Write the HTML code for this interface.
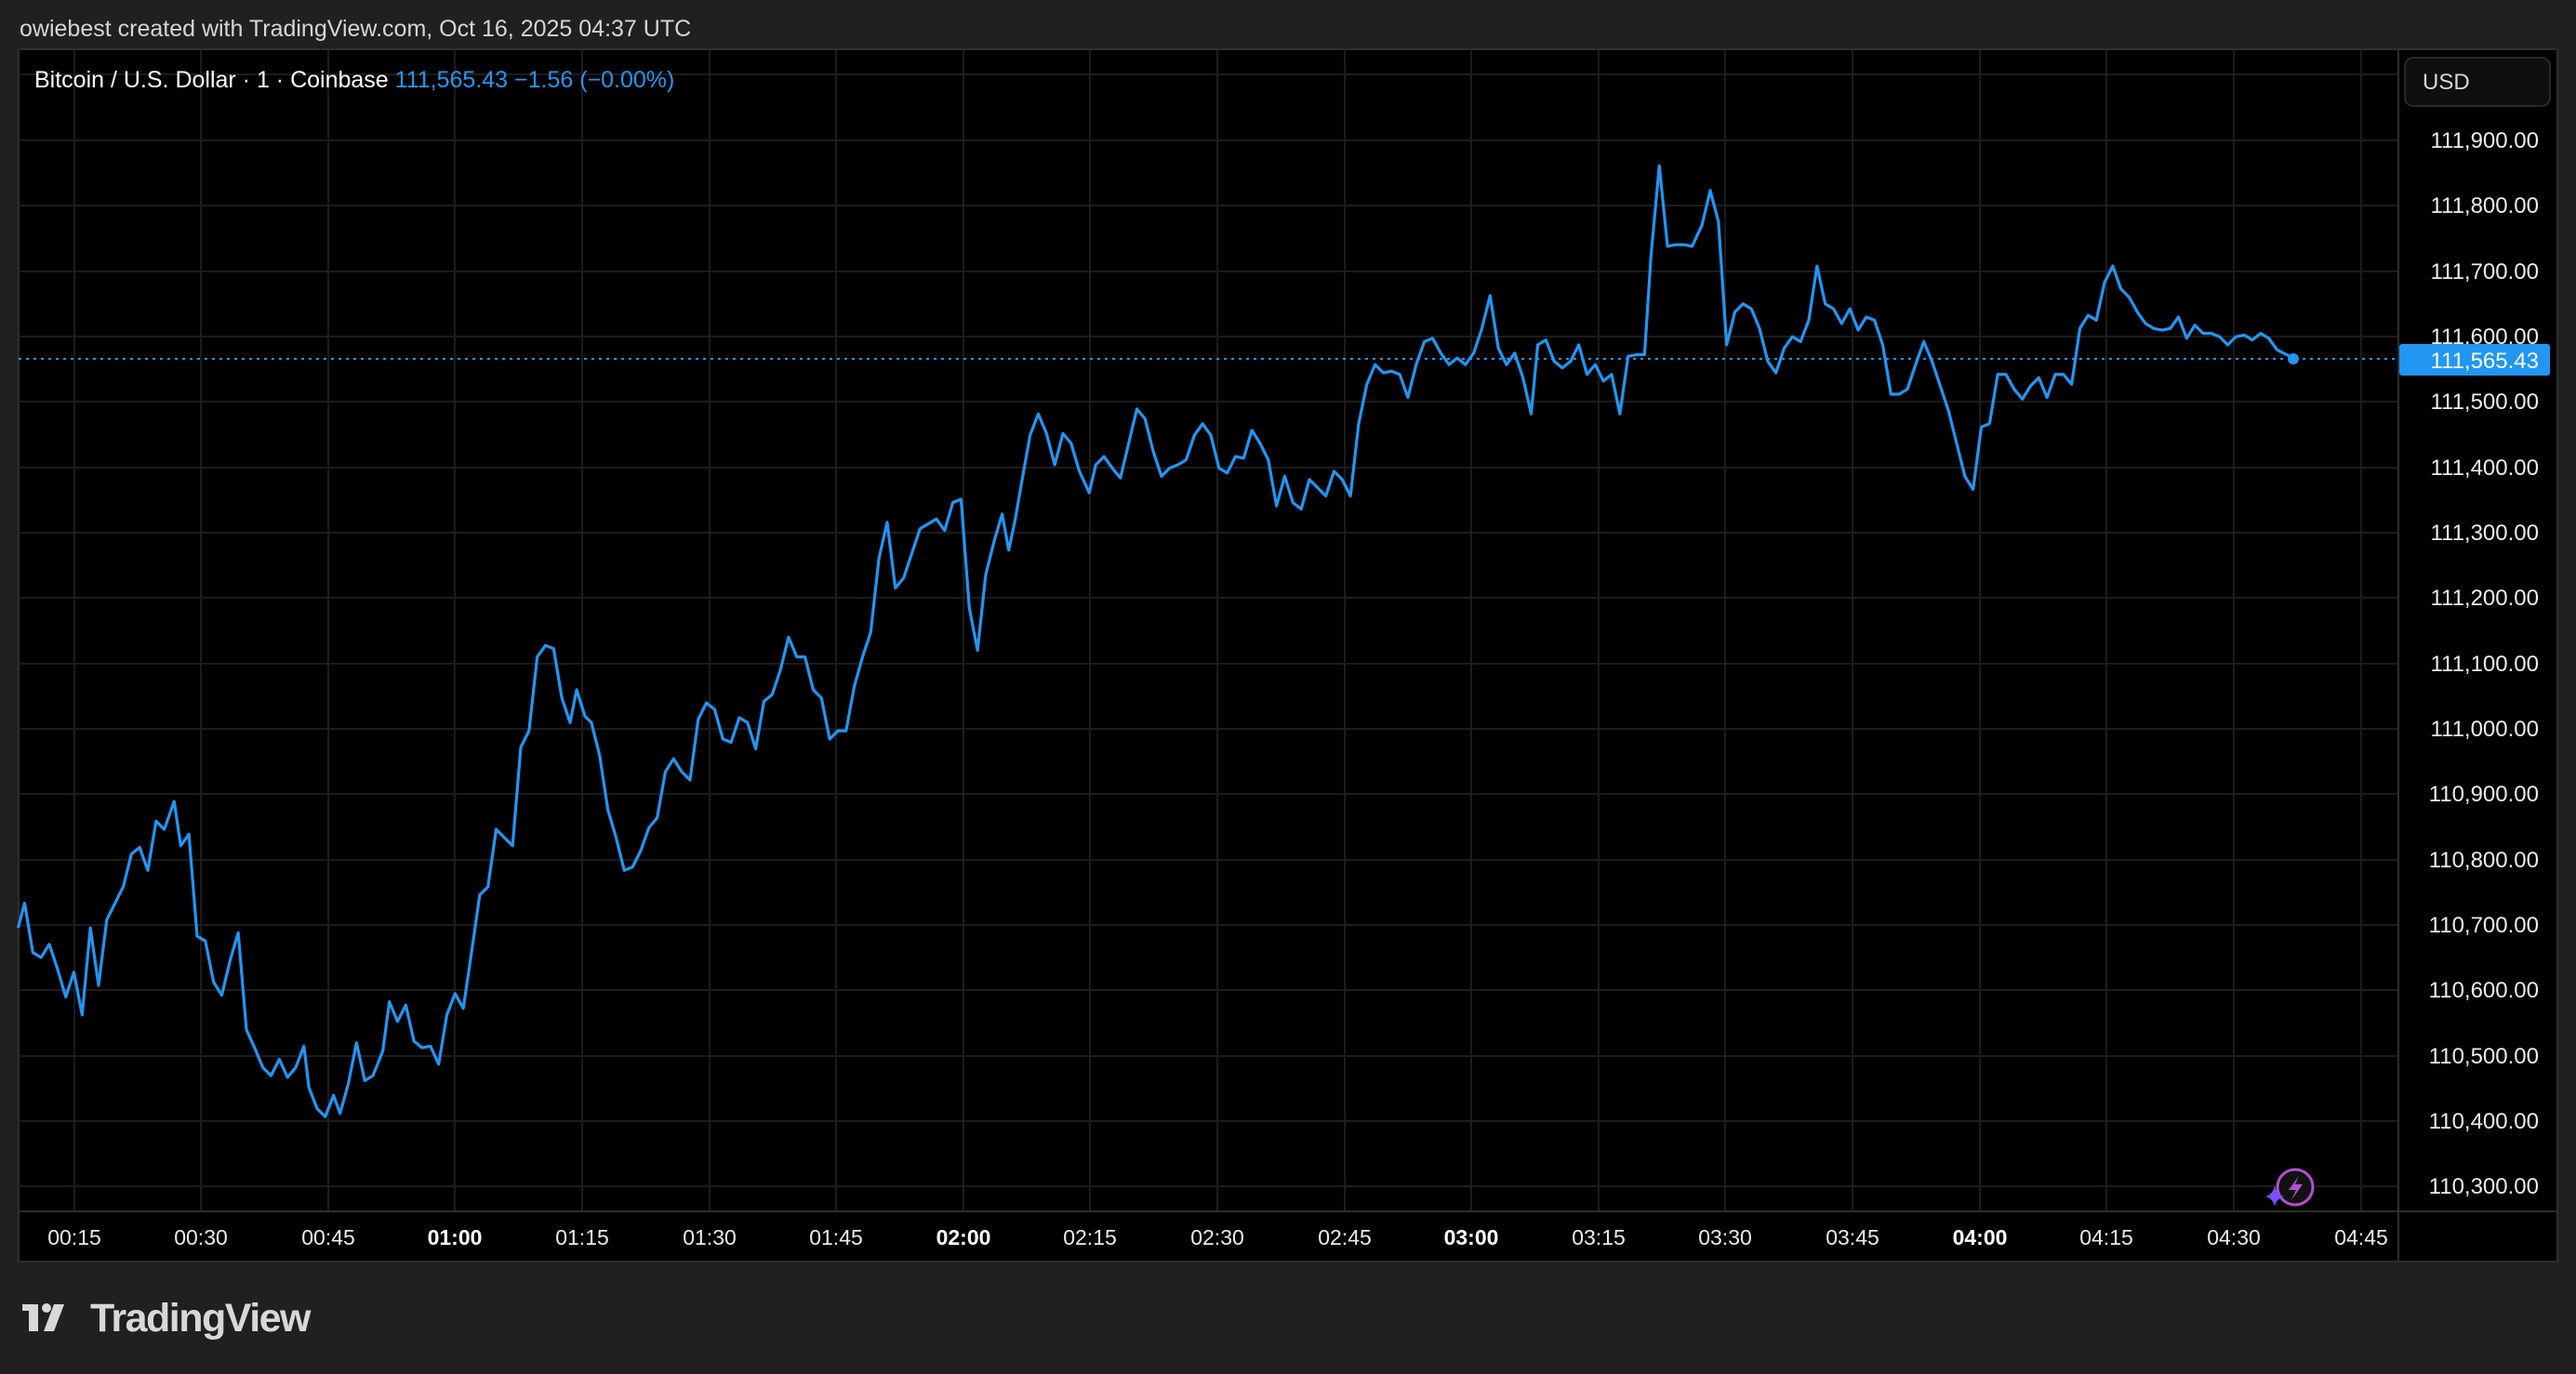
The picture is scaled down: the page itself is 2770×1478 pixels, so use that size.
<!DOCTYPE html>
<html><head><meta charset="utf-8"><style>
html,body{margin:0;padding:0;background:#202020;width:2770px;height:1478px;overflow:hidden}
svg{display:block}
text{font-family:"Liberation Sans",sans-serif}
</style></head><body>
<svg width="2770" height="1478" viewBox="0 0 2770 1478" xmlns="http://www.w3.org/2000/svg">
<rect width="2770" height="1478" fill="#202020"/>
<text x="21" y="39" font-size="25" fill="#d6d6d6">owiebest created with TradingView.com, Oct 16, 2025 04:37 UTC</text>
<rect x="20" y="53" width="2730" height="1304" fill="#000" stroke="#2e2e2e" stroke-width="2"/>
<g stroke="#1c1c1c" stroke-width="2">
<line x1="20" y1="80" x2="2579" y2="80"/><line x1="20" y1="151" x2="2579" y2="151"/><line x1="20" y1="221" x2="2579" y2="221"/><line x1="20" y1="292" x2="2579" y2="292"/><line x1="20" y1="362" x2="2579" y2="362"/><line x1="20" y1="432" x2="2579" y2="432"/><line x1="20" y1="503" x2="2579" y2="503"/><line x1="20" y1="573" x2="2579" y2="573"/><line x1="20" y1="643" x2="2579" y2="643"/><line x1="20" y1="714" x2="2579" y2="714"/><line x1="20" y1="784" x2="2579" y2="784"/><line x1="20" y1="854" x2="2579" y2="854"/><line x1="20" y1="925" x2="2579" y2="925"/><line x1="20" y1="995" x2="2579" y2="995"/><line x1="20" y1="1065" x2="2579" y2="1065"/><line x1="20" y1="1136" x2="2579" y2="1136"/><line x1="20" y1="1206" x2="2579" y2="1206"/><line x1="20" y1="1276" x2="2579" y2="1276"/>
<line x1="80" y1="54" x2="80" y2="1302"/><line x1="216" y1="54" x2="216" y2="1302"/><line x1="353" y1="54" x2="353" y2="1302"/><line x1="489" y1="54" x2="489" y2="1302"/><line x1="626" y1="54" x2="626" y2="1302"/><line x1="763" y1="54" x2="763" y2="1302"/><line x1="899" y1="54" x2="899" y2="1302"/><line x1="1036" y1="54" x2="1036" y2="1302"/><line x1="1172" y1="54" x2="1172" y2="1302"/><line x1="1309" y1="54" x2="1309" y2="1302"/><line x1="1446" y1="54" x2="1446" y2="1302"/><line x1="1582" y1="54" x2="1582" y2="1302"/><line x1="1719" y1="54" x2="1719" y2="1302"/><line x1="1855" y1="54" x2="1855" y2="1302"/><line x1="1992" y1="54" x2="1992" y2="1302"/><line x1="2129" y1="54" x2="2129" y2="1302"/><line x1="2265" y1="54" x2="2265" y2="1302"/><line x1="2402" y1="54" x2="2402" y2="1302"/><line x1="2539" y1="54" x2="2539" y2="1302"/>
</g>
<line x1="20" y1="1303" x2="2750" y2="1303" stroke="#2e2e2e" stroke-width="2"/>
<line x1="2579" y1="53" x2="2579" y2="1357" stroke="#2e2e2e" stroke-width="2"/>
<line x1="20" y1="386" x2="2579" y2="386" stroke="#2196f3" stroke-width="2" stroke-dasharray="3 5"/>
<g transform="scale(1.7666)">
<polyline fill="none" stroke="#2196f3" stroke-width="3.2" stroke-linejoin="round" vector-effect="non-scaling-stroke" points="11,565 15,550 20,580 25,583 30,575 35,590 40,607 45,592 50,618 55,565 60,600 65,560 70,550 75,540 80,520 85,516 90,530 95,500 100,505 106,488 110,515 115,508 120,570 125,573 130,598 135,606 140,585 145,568 150,627 155,638 160,650 165,655 170,645 175,656 180,650 185,637 188,662 193,675 198,680 203,667 207,678 212,660 217,635 222,658 227,655 233,640 237,610 242,622 247,612 252,634 257,638 262,637 267,648 272,618 277,605 282,614 287,580 292,545 297,540 302,505 307,510 312,515 317,455 322,445 327,400 332,393 337,395 342,425 347,440 351,420 356,436 360,440 365,460 370,493 375,510 380,530 385,528 390,518 395,504 400,498 405,470 410,462 415,470 420,475 425,438 430,428 435,432 440,450 445,452 450,437 455,440 460,456 465,427 470,423 475,408 480,388 485,400 490,400 495,420 500,425 505,450 510,445 515,445 520,418 525,400 530,385 535,340 540,318 545,358 550,352 555,337 560,322 565,319 570,316 575,323 580,306 585,304 590,370 595,396 600,350 605,330 610,313 614,335 618,316 622,293 627,265 632,252 637,264 642,283 647,264 652,270 657,287 663,300 667,283 672,278 677,285 682,291 687,270 692,249 697,255 702,275 707,290 712,285 717,283 722,280 727,265 732,258 737,265 742,285 747,288 752,278 757,279 762,262 767,270 772,280 777,308 782,290 787,306 792,310 797,292 802,297 807,302 812,287 817,292 822,302 827,258 832,234 837,222 842,227 847,226 852,228 857,242 862,222 867,208 872,206 877,215 882,222 887,218 892,222 897,215 902,200 907,180 912,212 917,222 922,215 927,230 932,252 936,210 941,207 946,220 951,224 956,220 961,210 966,228 971,222 976,232 981,228 986,252 991,217 996,216 1001,216 1005,155 1010,101 1015,150 1020,149 1025,149 1030,150 1036,137 1041,116 1046,135 1051,210 1056,190 1061,185 1066,188 1071,200 1076,220 1081,227 1086,212 1091,205 1096,208 1101,195 1106,162 1111,185 1116,188 1121,197 1126,188 1131,201 1136,193 1141,195 1146,210 1151,240 1156,240 1161,237 1166,222 1171,208 1176,220 1181,235 1186,250 1191,270 1196,290 1201,298 1206,260 1211,258 1216,228 1221,228 1226,237 1231,243 1236,235 1241,230 1246,242 1251,228 1256,228 1261,234 1266,200 1271,192 1276,195 1281,172 1286,162 1291,176 1296,181 1301,190 1306,197 1311,200 1316,201 1321,200 1326,193 1331,206 1336,198 1341,203 1346,203 1351,205 1356,210 1361,205 1366,204 1371,207 1376,203 1381,206 1386,213 1396,218"/>
</g>
<circle cx="2466" cy="386" r="6" fill="#2196f3"/>
<text x="37" y="94" font-size="25" fill="#ffffff">Bitcoin / U.S. Dollar · 1 · Coinbase <tspan fill="#2196f3"> 111,565.43  −1.56 (−0.00%)</tspan></text>
<rect x="2586" y="62" width="156" height="52" rx="9" fill="#0f0f0f" stroke="#333" stroke-width="1.5"/>
<text x="2605" y="96" font-size="24" fill="#d6d6d6">USD</text>
<g font-size="24" fill="#ececec" text-anchor="end">
<text x="2730" y="159">111,900.00</text><text x="2730" y="229">111,800.00</text><text x="2730" y="300">111,700.00</text><text x="2730" y="370">111,600.00</text><text x="2730" y="440">111,500.00</text><text x="2730" y="511">111,400.00</text><text x="2730" y="581">111,300.00</text><text x="2730" y="651">111,200.00</text><text x="2730" y="722">111,100.00</text><text x="2730" y="792">111,000.00</text><text x="2730" y="862">110,900.00</text><text x="2730" y="933">110,800.00</text><text x="2730" y="1003">110,700.00</text><text x="2730" y="1073">110,600.00</text><text x="2730" y="1144">110,500.00</text><text x="2730" y="1214">110,400.00</text><text x="2730" y="1284">110,300.00</text>
</g>
<rect x="2580" y="370" width="162" height="34" rx="3" fill="#2196f3"/>
<text x="2730" y="396" font-size="24" fill="#fff" text-anchor="end">111,565.43</text>
<g font-size="23" fill="#ececec" text-anchor="middle">
<text x="80" y="1339">00:15</text><text x="216" y="1339">00:30</text><text x="353" y="1339">00:45</text><text x="489" y="1339" font-weight="bold" fill="#fff">01:00</text><text x="626" y="1339">01:15</text><text x="763" y="1339">01:30</text><text x="899" y="1339">01:45</text><text x="1036" y="1339" font-weight="bold" fill="#fff">02:00</text><text x="1172" y="1339">02:15</text><text x="1309" y="1339">02:30</text><text x="1446" y="1339">02:45</text><text x="1582" y="1339" font-weight="bold" fill="#fff">03:00</text><text x="1719" y="1339">03:15</text><text x="1855" y="1339">03:30</text><text x="1992" y="1339">03:45</text><text x="2129" y="1339" font-weight="bold" fill="#fff">04:00</text><text x="2265" y="1339">04:15</text><text x="2402" y="1339">04:30</text><text x="2539" y="1339">04:45</text>
</g>
<circle cx="2468" cy="1277" r="19" fill="#111" stroke="#b050d0" stroke-width="3"/>
<path d="M2472 1265 L2461 1280 L2469 1280 L2464 1291 L2476 1274 L2468 1274 Z" fill="#b050d0"/>
<path d="M2446 1275 Q2448 1285 2456 1287 Q2448 1289 2446 1298 Q2444 1289 2436 1287 Q2444 1285 2446 1275 Z" fill="#7b4dff"/>
<g fill="#d8d8d8">
<rect x="24" y="1403" width="17" height="7"/><rect x="31" y="1403" width="10" height="29"/>
<circle cx="50" cy="1407" r="5"/>
<path d="M58 1403 L69 1403 L58 1432 L47 1432 Z"/>
</g>
<text x="97" y="1432" font-size="43" fill="#d8d8d8" font-weight="bold" letter-spacing="-1.5">TradingView</text>
</svg>
</body></html>
